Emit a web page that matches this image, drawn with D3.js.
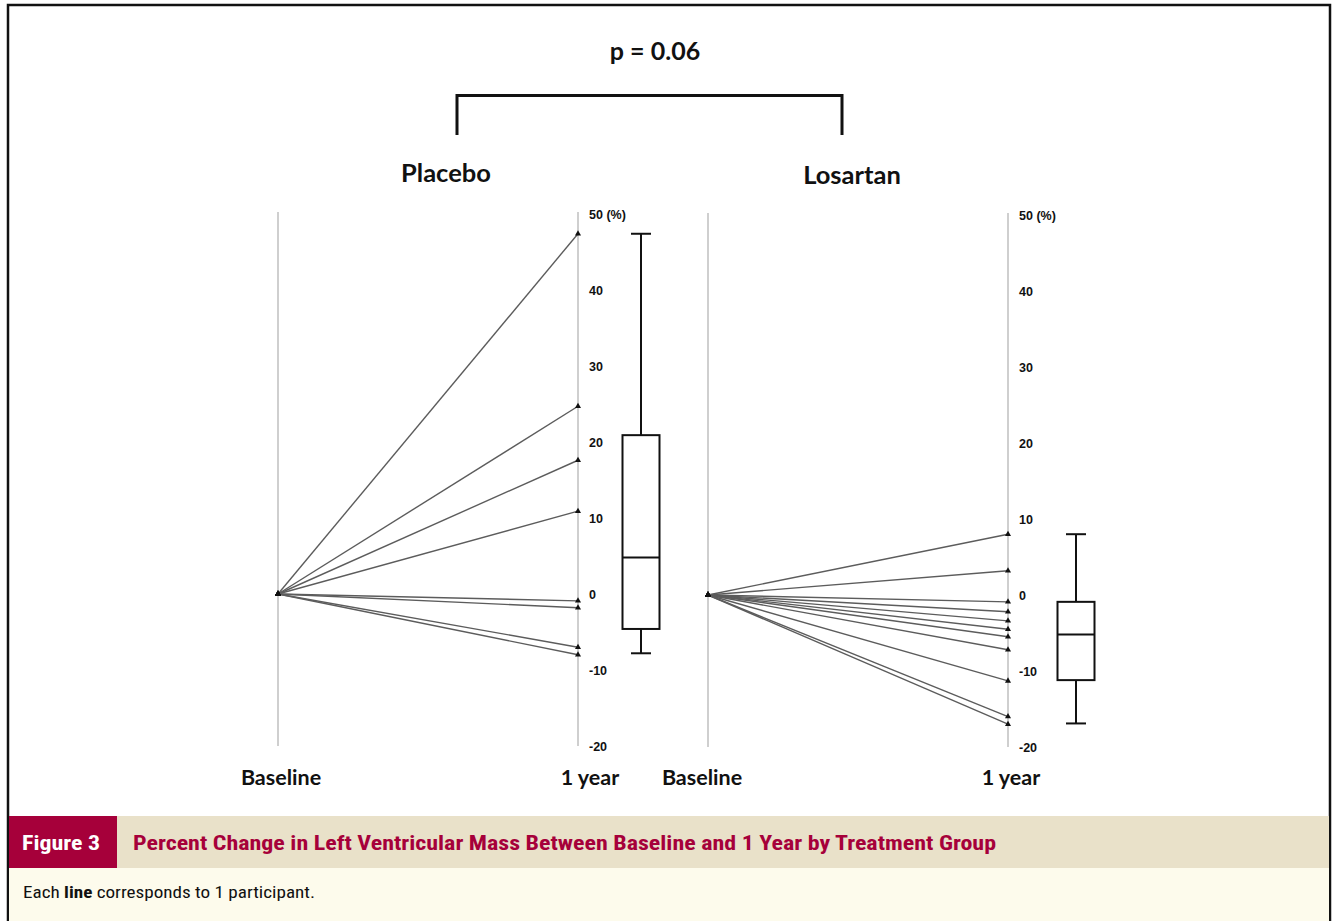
<!DOCTYPE html>
<html>
<head>
<meta charset="utf-8">
<script src="https://cdn.jsdelivr.net/npm/d3@7/dist/d3.min.js"></script>
<style>
  html, body { margin: 0; padding: 0; background: #ffffff; }
  svg { display: block; }
</style>
</head>
<body>
<svg id="chart" width="1333" height="921"></svg>
<script>
// ---------------- DATA ----------------
const groups = ["Placebo", "Losartan"];
const timepoints = ["Baseline", "1 year"];
const tickValues = [-20, -10, 0, 10, 20, 30, 40, 50];
const tickLabels = ["-20", "-10", "0", "10", "20", "30", "40", "50 (%)"];
// percent change in LV mass at 1 year, one value per participant (baseline = 0)
const placeboChange = [47.4, 24.7, 17.6, 10.9, -0.9, -1.8, -7.0, -8.0];
const losartanChange = [8.0, 3.2, -0.9, -2.2, -3.4, -4.5, -5.5, -7.2, -11.3, -16.0, -17.0];
// box plot statistics: [min, q1, median, q3, max]
const placeboBoxStats = [-7.8, -4.6, 4.8, 20.9, 47.4];
const losartanBoxStats = [-16.9, -11.2, -5.2, -0.9, 8.0];
const pValueText = "p = 0.06";
const figureLabel = "Figure 3";
const figureTitle = "Percent Change in Left Ventricular Mass Between Baseline and 1 Year by Treatment Group";
const captionParts = [["Each ", false], ["line", true], [" corresponds to 1 participant.", false]];

// ---------------- LAYOUT ----------------
const svg = d3.select("#chart");
const W = 1333, H = 921;
const panels = [
  { name: groups[0], values: placeboChange, box: placeboBoxStats, x0: 278, boxOffset: 63, yTop: 214, yBot: 746, titleX: 446, titleY: 182, labelDx: [3, 12] },
  { name: groups[1], values: losartanChange, box: losartanBoxStats, x0: 708, boxOffset: 68, yTop: 215, yBot: 747, titleX: 852, titleY: 184, labelDx: [-6, 3] }
];
const panelWidth = 300;
const boldFont = "Lato, 'Open Sans', 'Liberation Sans', sans-serif";
const condFont = "'Liberation Sans Narrow', 'Roboto Condensed', 'DejaVu Sans Condensed', 'Liberation Sans', sans-serif";

// Frame
svg.append("path")
  .attr("d", `M8,${H} V5 H1330 V${H}`)
  .attr("fill", "none").attr("stroke", "#111").attr("stroke-width", 2.5);

// Bracket + p value
svg.append("path")
  .attr("d", "M457,135 V95.5 H842 V135")
  .attr("fill", "none").attr("stroke", "#111").attr("stroke-width", 3);
svg.append("text")
  .attr("x", 655).attr("y", 60)
  .attr("text-anchor", "middle")
  .attr("font-family", boldFont).attr("font-weight", 700).attr("font-size", 25)
  .attr("fill", "#111")
  .text(pValueText);

const tri = d3.symbol().type(d3.symbolTriangle).size(16);

panels.forEach(p => {
  const g = svg.append("g").attr("transform", `translate(${p.x0},0)`);
  const x = d3.scalePoint().domain(timepoints).range([0, panelWidth]);
  const y = d3.scaleLinear().domain([-20, 50]).range([p.yBot, p.yTop]);

  // group title
  svg.append("text")
    .attr("x", p.titleX).attr("y", p.titleY)
    .attr("text-anchor", "middle")
    .attr("font-family", boldFont).attr("font-weight", 700).attr("font-size", 25.5)
    .attr("fill", "#111")
    .text(p.name);

  // baseline vertical gray line
  g.append("line")
    .attr("x1", x(timepoints[0])).attr("x2", x(timepoints[0]))
    .attr("y1", y(50) - 2).attr("y2", y(-20))
    .attr("stroke", "#cfcfcf").attr("stroke-width", 2);

  // 1-year axis
  const axis = d3.axisRight(y)
    .tickValues(tickValues)
    .tickSize(0).tickSizeOuter(0).tickPadding(11)
    .tickFormat((d, i) => tickLabels[i]);
  const ag = g.append("g")
    .attr("transform", `translate(${x(timepoints[1])},0)`)
    .call(axis);
  ag.select(".domain").attr("stroke", "#cfcfcf").attr("stroke-width", 2)
    .attr("d", `M0,${y(50) - 2}V${y(-20)}`);
  ag.selectAll(".tick text")
    .attr("font-family", "'Liberation Sans', Arial, sans-serif")
    .attr("font-weight", 700).attr("font-size", 12.5).attr("fill", "#111");

  // participant lines
  g.selectAll("line.participant")
    .data(p.values)
    .join("line")
    .attr("class", "participant")
    .attr("x1", x(timepoints[0])).attr("y1", y(0))
    .attr("x2", x(timepoints[1])).attr("y2", d => y(d))
    .attr("stroke", "#5c5c5c").attr("stroke-width", 1.4);

  // markers
  g.selectAll("path.start")
    .data(p.values)
    .join("path")
    .attr("class", "start")
    .attr("d", tri)
    .attr("transform", `translate(${x(timepoints[0])},${y(0)})`)
    .attr("fill", "#111");
  g.selectAll("path.end")
    .data(p.values)
    .join("path")
    .attr("class", "end")
    .attr("d", tri)
    .attr("transform", d => `translate(${x(timepoints[1])},${y(d)})`)
    .attr("fill", "#111");

  // box plot
  const [mn, q1, med, q3, mx] = p.box;
  const bx = x(timepoints[1]) + p.boxOffset;
  const bw = 37, cw = 20;
  const bg = g.append("g").attr("fill", "none").attr("stroke", "#111").attr("stroke-width", 2);
  bg.append("line").attr("x1", bx).attr("x2", bx).attr("y1", y(mx)).attr("y2", y(q3));
  bg.append("line").attr("x1", bx).attr("x2", bx).attr("y1", y(q1)).attr("y2", y(mn));
  bg.append("line").attr("x1", bx - cw / 2).attr("x2", bx + cw / 2).attr("y1", y(mx)).attr("y2", y(mx));
  bg.append("line").attr("x1", bx - cw / 2).attr("x2", bx + cw / 2).attr("y1", y(mn)).attr("y2", y(mn));
  bg.append("rect").attr("x", bx - bw / 2).attr("width", bw)
    .attr("y", y(q3)).attr("height", y(q1) - y(q3)).attr("fill", "#fff");
  bg.append("line").attr("x1", bx - bw / 2).attr("x2", bx + bw / 2).attr("y1", y(med)).attr("y2", y(med));

  // timepoint labels
  g.selectAll("text.time")
    .data(timepoints)
    .join("text")
    .attr("class", "time")
    .attr("x", (d, i) => x(d) + p.labelDx[i])
    .attr("y", 785)
    .attr("text-anchor", "middle")
    .attr("font-family", boldFont).attr("font-weight", 700).attr("font-size", 21.5)
    .attr("fill", "#111")
    .text(d => d);
});

// ---------------- CAPTION ----------------
svg.append("rect").attr("x", 9).attr("y", 816).attr("width", 1320).attr("height", 52).attr("fill", "#e9e1c9");
svg.append("rect").attr("x", 9).attr("y", 868).attr("width", 1320).attr("height", H - 868).attr("fill", "#fdfbec");
svg.append("rect").attr("x", 9).attr("y", 816).attr("width", 108).attr("height", 52).attr("fill", "#a6003a");
svg.append("text")
  .attr("x", 22).attr("y", 850)
  .attr("font-family", condFont).attr("font-weight", 700).attr("font-size", 20)
  .attr("fill", "#ffffff")
  .attr("textLength", 78).attr("lengthAdjust", "spacingAndGlyphs")
  .text(figureLabel);
svg.append("text")
  .attr("x", 133).attr("y", 850)
  .attr("font-family", condFont).attr("font-weight", 700).attr("font-size", 20)
  .attr("fill", "#a6003a")
  .attr("textLength", 863).attr("lengthAdjust", "spacingAndGlyphs")
  .text(figureTitle);
const cap = svg.append("text")
  .attr("x", 23).attr("y", 898)
  .attr("font-family", condFont).attr("font-size", 16)
  .attr("fill", "#111")
  .attr("textLength", 292).attr("lengthAdjust", "spacingAndGlyphs");
cap.selectAll("tspan").data(captionParts).join("tspan")
  .attr("font-weight", d => d[1] ? 700 : 400)
  .text(d => d[0]);
</script>
</body>
</html>
